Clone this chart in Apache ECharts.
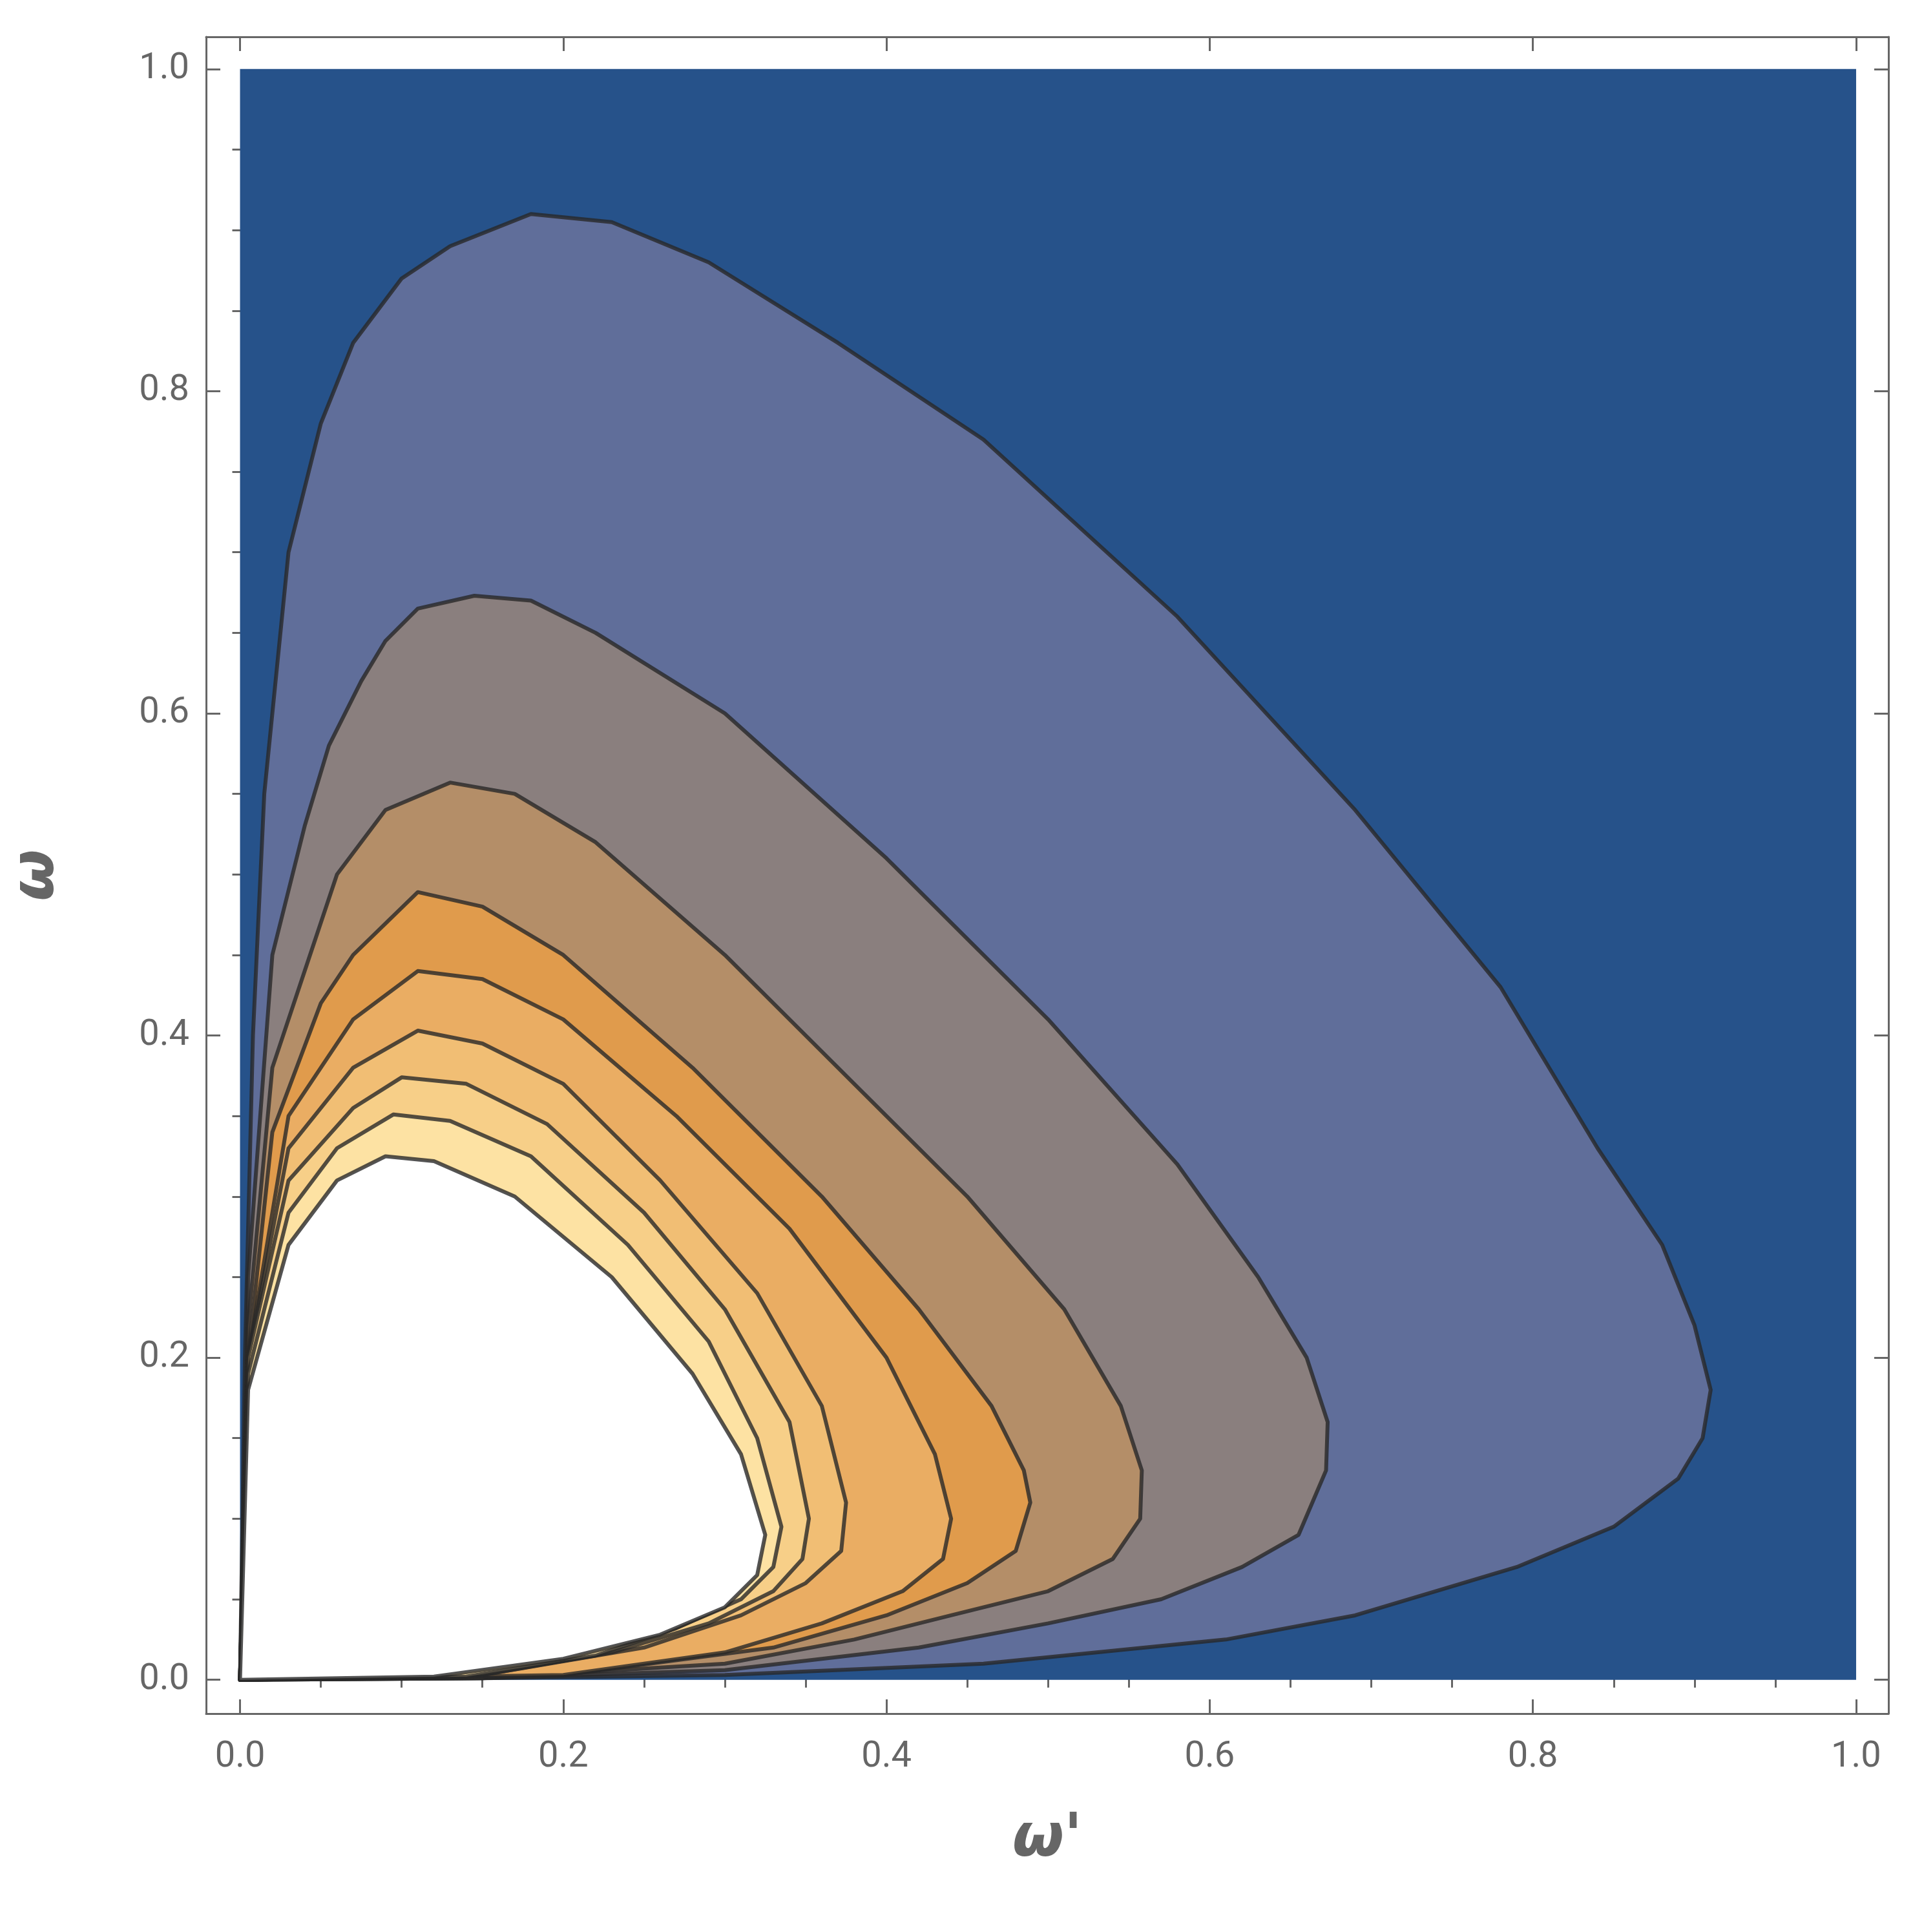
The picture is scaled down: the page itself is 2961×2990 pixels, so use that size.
<!DOCTYPE html>
<html>
<head>
<meta charset="utf-8">
<script src="https://cdn.jsdelivr.net/npm/echarts@6/dist/echarts.min.js"></script>
<style>html,body{margin:0;padding:0;background:#fff}#chart{width:2961px;height:2990px}</style>
</head>
<body>
<div id="chart"></div>
<script>
// contour outlines (omega', omega), outer to inner
const background = [[0, 0], [1, 0], [1, 1], [0, 1]];
const level1 = [[0,0],[0.003,0.2],[0.008,0.4],[0.015,0.55],[0.03,0.7],[0.05,0.78],[0.07,0.83],[0.1,0.87],[0.13,0.89],[0.18,0.91],[0.23,0.905],[0.29,0.88],[0.37,0.83],[0.46,0.77],[0.58,0.66],[0.69,0.54],[0.78,0.43],[0.84,0.33],[0.88,0.27],[0.9,0.22],[0.91,0.18],[0.905,0.15],[0.89,0.125],[0.85,0.095],[0.79,0.07],[0.69,0.04],[0.61,0.025],[0.53,0.017],[0.46,0.01],[0.3,0.003],[0.15,0.001],[0,0]];
const level2 = [[0,0],[0.005,0.25],[0.02,0.45],[0.04,0.53],[0.055,0.58],[0.075,0.62],[0.09,0.645],[0.11,0.665],[0.145,0.673],[0.18,0.67],[0.22,0.65],[0.3,0.6],[0.4,0.51],[0.5,0.41],[0.58,0.32],[0.63,0.25],[0.66,0.2],[0.673,0.16],[0.672,0.13],[0.655,0.09],[0.62,0.07],[0.57,0.05],[0.5,0.035],[0.42,0.02],[0.3,0.006],[0.15,0.001],[0,0]];
const level3 = [[0,0],[0.005,0.22],[0.02,0.38],[0.04,0.44],[0.06,0.5],[0.09,0.54],[0.13,0.557],[0.17,0.55],[0.22,0.52],[0.3,0.45],[0.38,0.37],[0.45,0.3],[0.51,0.23],[0.545,0.17],[0.558,0.13],[0.557,0.1],[0.54,0.075],[0.5,0.055],[0.44,0.04],[0.38,0.025],[0.3,0.01],[0.15,0.001],[0,0]];
const level4 = [[0,0],[0.005,0.2],[0.02,0.34],[0.05,0.42],[0.07,0.45],[0.11,0.489],[0.15,0.48],[0.2,0.45],[0.28,0.38],[0.36,0.3],[0.42,0.23],[0.465,0.17],[0.485,0.13],[0.489,0.11],[0.48,0.08],[0.45,0.06],[0.4,0.04],[0.33,0.02],[0.2,0.003],[0,0]];
const level5 = [[0,0],[0.005,0.2],[0.03,0.35],[0.07,0.41],[0.11,0.44],[0.15,0.435],[0.2,0.41],[0.27,0.35],[0.34,0.28],[0.4,0.2],[0.43,0.14],[0.44,0.1],[0.435,0.075],[0.41,0.055],[0.36,0.035],[0.3,0.017],[0.2,0.003],[0,0]];
const level6 = [[0,0],[0.005,0.2],[0.03,0.33],[0.07,0.38],[0.11,0.403],[0.15,0.395],[0.2,0.37],[0.26,0.31],[0.32,0.24],[0.36,0.17],[0.375,0.11],[0.372,0.08],[0.35,0.06],[0.31,0.04],[0.25,0.02],[0.15,0.003],[0,0]];
const level7 = [[0,0],[0.005,0.2],[0.03,0.31],[0.07,0.355],[0.1,0.374],[0.14,0.37],[0.19,0.345],[0.25,0.29],[0.3,0.23],[0.34,0.16],[0.352,0.1],[0.348,0.075],[0.33,0.055],[0.29,0.035],[0.23,0.017],[0.15,0.003],[0,0]];
const level8 = [[0,0],[0.005,0.19],[0.03,0.29],[0.06,0.33],[0.095,0.351],[0.13,0.347],[0.18,0.325],[0.24,0.27],[0.29,0.21],[0.32,0.15],[0.335,0.095],[0.33,0.07],[0.31,0.05],[0.27,0.032],[0.22,0.015],[0.14,0.002],[0,0]];
const level9 = [[0,0],[0.005,0.18],[0.03,0.27],[0.06,0.31],[0.09,0.325],[0.12,0.322],[0.17,0.3],[0.23,0.25],[0.28,0.19],[0.31,0.14],[0.325,0.09],[0.32,0.065],[0.3,0.045],[0.26,0.028],[0.2,0.013],[0.12,0.002],[0,0]];
const majorTicks = [0, 0.2, 0.4, 0.6, 0.8, 1.0];
const minorTicks = [0.05, 0.1, 0.15, 0.25, 0.3, 0.35, 0.45, 0.5, 0.55, 0.65, 0.7, 0.75, 0.85, 0.9, 0.95];

const layers = [
  { pts: background, fill: "#26528a", line: false },
  { pts: level1, fill: "#606e9a", line: true },
  { pts: level2, fill: "#8a7f7e", line: true },
  { pts: level3, fill: "#b48e68", line: true },
  { pts: level4, fill: "#e09b4c", line: true },
  { pts: level5, fill: "#eaad63", line: true },
  { pts: level6, fill: "#f1be74", line: true },
  { pts: level7, fill: "#f7cf88", line: true },
  { pts: level8, fill: "#fde2a3", line: true },
  { pts: level9, fill: "#ffffff", line: true }
];

const chart = echarts.init(document.getElementById("chart"));
const labelFont = { fontFamily: "Roboto, Arial, sans-serif", fontSize: 56, color: "#666" };
const frame = { show: true, onZero: false, lineStyle: { color: "#666", width: 3 } };

function axisSet(dim) {
  const isX = dim === "x";
  const common = { type: "value", min: -0.021, max: 1.02, splitLine: { show: false } };
  const pos = isX ? ["bottom", "top"] : ["left", "right"];
  const axes = [];
  pos.forEach((p, i) => {
    axes.push(Object.assign({}, common, {
      position: p,
      axisLine: frame,
      axisTick: { inside: true, length: 22, customValues: majorTicks, lineStyle: { color: "#666", width: 3 } },
      axisLabel: i === 0
        ? Object.assign({ customValues: majorTicks, margin: isX ? 40 : 26, formatter: (v) => v.toFixed(1) }, labelFont)
        : { show: false },
      name: i === 0 ? (isX ? "ω'" : "ω") : "",
      nameLocation: "middle",
      nameGap: isX ? 150 : 215,
      nameRotate: isX ? 0 : 90,
      nameTextStyle: { fontFamily: "DejaVu Sans, sans-serif", fontSize: 92, fontWeight: "bold", fontStyle: "italic", color: "#666" }
    }));
    axes.push(Object.assign({}, common, {
      position: p,
      axisLine: { show: false },
      axisTick: { inside: true, length: 12, customValues: minorTicks, lineStyle: { color: "#666", width: 3 } },
      axisLabel: { show: false }
    }));
  });
  return axes;
}

chart.setOption({
  animation: false,
  backgroundColor: "#fff",
  grid: { left: 319, right: 38, top: 57, bottom: 338 },
  xAxis: axisSet("x"),
  yAxis: axisSet("y"),
  series: layers.map((layer) => ({
    type: "custom",
    xAxisIndex: 0,
    yAxisIndex: 0,
    data: [0],
    renderItem: (params, api) => ({
      type: "polygon",
      shape: { points: layer.pts.map((p) => api.coord(p)) },
      style: {
        fill: layer.fill,
        stroke: layer.line ? "rgba(40,40,40,0.8)" : null,
        lineWidth: layer.line ? 6 : 0,
        lineJoin: "round"
      }
    })
  }))
});
</script>
</body>
</html>
